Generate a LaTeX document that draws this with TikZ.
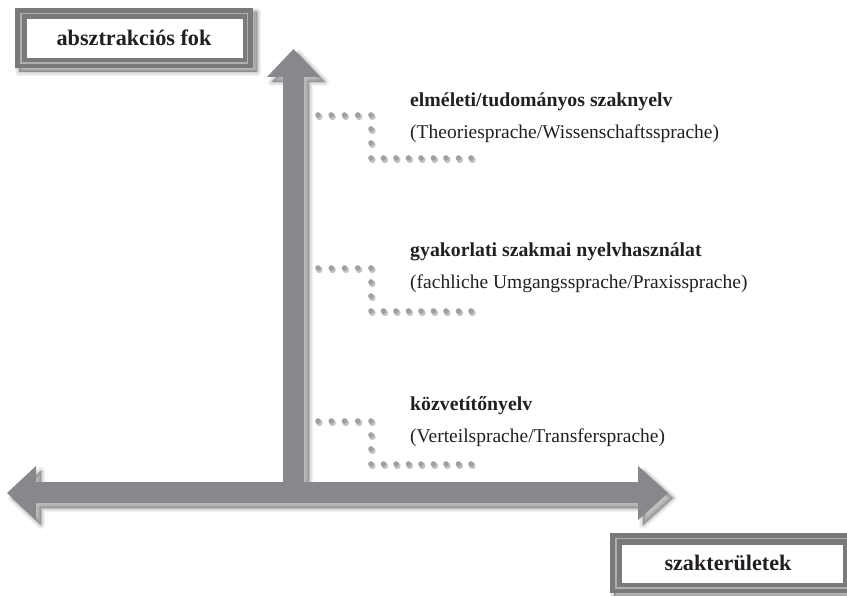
\documentclass[tikz,border=0pt]{standalone}
\usepackage{fontspec}
\setmainfont{Liberation Serif}
\definecolor{arrowgray}{RGB}{134,136,140}
\definecolor{framegray}{RGB}{122,122,125}
\definecolor{bevelgray}{RGB}{175,175,178}
\definecolor{dotgray}{RGB}{160,160,163}
\definecolor{textgray}{RGB}{35,31,32}
\newcommand\softshadow[2][5]{%
  \foreach \w/\o in {8/0.05,5.5/0.06,3/0.075,1/0.09}{%
    \begin{scope}[shift={(#1,#1)}]
      \filldraw[black,opacity=\o,line width=\w pt,line join=round] #2;
    \end{scope}}}
\newcommand\dotgroup[1]{%
  \foreach \i in {0,...,4}{\fill[black,opacity=0.24] (318+13.25*\i+1.3,#1+1.8) circle (3.3);
                          \fill[dotgray] (318+13.25*\i,#1) circle (2.8);}
  \foreach \j in {1,2}{\fill[black,opacity=0.24] (371+1.3,#1+14*\j+1.8) circle (3.3);
                       \fill[dotgray] (371,#1+14*\j) circle (2.8);}
  \foreach \i in {0,...,8}{\fill[black,opacity=0.24] (371+12.5*\i+1.3,#1+43+1.8) circle (3.3);
                          \fill[dotgray] (371+12.5*\i,#1+43) circle (2.8);}}
\tikzset{
  boldlbl/.style={anchor=base west,inner sep=0pt,font=\bfseries\fontsize{19.8}{21}\selectfont,text=textgray},
  reglbl/.style={anchor=base west,inner sep=0pt,font=\fontsize{19.5}{21}\selectfont,text=textgray},
  boxlbl/.style={anchor=base,inner sep=0pt,font=\bfseries\fontsize{22.2}{23}\selectfont,text=textgray}
}
\begin{document}
\begin{tikzpicture}[x=1pt,y=-1pt]
\useasboundingbox (0,0) rectangle (847,596);
% vertical arrow
\softshadow{(283,492) -- (283,77) -- (267,77) -- (293.5,49) -- (320,77) -- (304,77) -- (304,492) -- cycle}
\fill[arrowgray] (283,492) -- (283,77) -- (267,77) -- (293.5,49) -- (320,77) -- (304,77) -- (304,492) -- cycle;
% horizontal double arrow
\softshadow{(36,482) -- (36,466) -- (7,493) -- (36,520) -- (36,503) -- (638,503) -- (638,520) -- (668,493) -- (638,466) -- (638,482) -- cycle}
\fill[arrowgray] (36,482) -- (36,466) -- (7,493) -- (36,520) -- (36,503) -- (638,503) -- (638,520) -- (668,493) -- (638,466) -- (638,482) -- cycle;
% box 1
\softshadow[4]{(15,8) rectangle (253,68)}
\fill[framegray] (15,8) rectangle (253,68);
\draw[bevelgray,line width=1.4pt] (21,13.5) rectangle (247.5,63);
\fill[white] (27,19) rectangle (243,58);
\node[boxlbl] (absz) at (134,46) {absztrakciós fok};
% box 2
\softshadow[4]{(610,533) rectangle (855,593)}
\fill[framegray] (610,533) rectangle (855,593);
\draw[bevelgray,line width=1.4pt] (616,538.5) rectangle (849.5,588);
\fill[white] (622,545) rectangle (843,583);
\node[boxlbl] (szak) at (728,570) {szakterületek};
% dot connectors
\dotgroup{115}
\dotgroup{268}
\dotgroup{421}
% labels
\node[boldlbl] (l1) at (410,107) {elméleti/tudományos szaknyelv};
\node[reglbl] (l1b) at (410,139) {(Theoriesprache/Wissenschaftssprache)};
\node[boldlbl] (l2) at (410,257) {gyakorlati szakmai nyelvhasználat};
\node[reglbl] (l2b) at (410,289) {(fachliche Umgangssprache/Praxissprache)};
\node[boldlbl] (l3) at (410,410) {közvetítőnyelv};
\node[reglbl] (l3b) at (410,442) {(Verteilsprache/Transfersprache)};
\end{tikzpicture}
\end{document}
